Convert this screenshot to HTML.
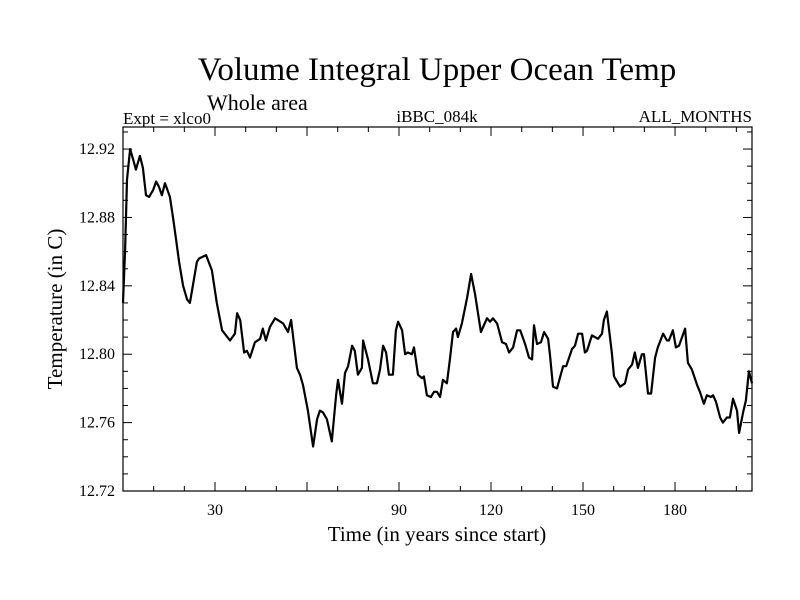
<!DOCTYPE html>
<html><head><meta charset="utf-8"><style>
body{margin:0;background:#fff}
svg{display:block;font-family:"Liberation Serif",serif}
</style></head><body>
<svg id="chart" width="800" height="600" xmlns="http://www.w3.org/2000/svg">
<rect width="800" height="600" fill="#fff"/>
<text x="437" y="80" font-size="33" text-anchor="middle">Volume Integral Upper Ocean Temp</text>
<text x="207" y="110" font-size="22">Whole area</text>
<text x="123" y="124" font-size="17">Expt = xlco0</text>
<text x="437" y="122" font-size="17" text-anchor="middle">iBBC_084k</text>
<text x="752" y="122" font-size="17" text-anchor="end">ALL_MONTHS</text>
<text transform="translate(62,309) rotate(-90)" font-size="21" text-anchor="middle">Temperature (in C)</text>
<text x="437" y="541" font-size="21" text-anchor="middle">Time (in years since start)</text>
<g id="axes"></g>
<path id="line" fill="none" stroke="#000" stroke-width="2.2" stroke-linejoin="round"/>
<rect x="123" y="127" width="629" height="364" fill="none" stroke="#000" stroke-width="1.2"/>
</svg>
<script>
const years=[0,0.7,1.3,2.3,3.3,4.2,5.5,6.5,7.5,8.5,9.8,10.8,11.7,12.7,13.7,14.7,15.3,16.3,17.3,18.3,19.6,20.9,21.8,24.1,24.8,27.1,29.0,30.6,32.3,34.9,36.5,37.2,38.2,39.5,40.4,41.4,43.0,44.7,45.6,46.6,47.9,49.6,52.2,53.5,53.8,54.8,56.7,57.7,58.7,60.3,62.0,63.3,64.2,65.2,66.5,68.1,69.5,70.1,71.4,72.4,73.4,74.7,75.6,76.6,77.9,78.3,79.9,81.5,82.8,83.8,84.8,85.8,86.7,88.0,89.0,89.7,91.0,92.0,92.9,94.2,94.9,96.2,97.5,98.1,99.1,100.4,101.4,102.4,103.4,104.3,105.6,106.6,107.6,108.6,109.2,110.5,112.2,113.5,114.8,116.7,118.7,119.7,120.6,122.0,123.6,124.9,125.9,127.2,128.5,129.5,131.1,132.4,133.4,134.0,135.0,136.3,137.3,138.6,139.2,140.2,141.5,143.5,144.5,146.4,147.4,148.4,149.7,150.6,151.3,152.9,153.9,154.9,156.2,156.8,157.8,159.4,160.1,162.1,163.7,164.7,166.0,166.9,167.9,169.2,169.9,171.2,172.2,173.5,174.4,176.1,177.4,178.0,179.3,180.3,181.3,183.3,184.2,185.5,187.2,188.1,189.4,190.4,191.7,192.4,193.4,194.7,195.6,196.9,197.9,198.9,200.2,200.9,202.2,203.1,204.1,205.1];
const temps=[12.830,12.861,12.902,12.920,12.914,12.908,12.916,12.909,12.893,12.892,12.896,12.901,12.898,12.893,12.900,12.895,12.892,12.880,12.867,12.854,12.840,12.832,12.830,12.854,12.856,12.858,12.849,12.830,12.814,12.808,12.812,12.824,12.820,12.801,12.802,12.798,12.807,12.809,12.815,12.808,12.816,12.821,12.818,12.814,12.813,12.820,12.792,12.788,12.782,12.767,12.746,12.762,12.767,12.766,12.762,12.749,12.776,12.785,12.771,12.789,12.793,12.805,12.802,12.788,12.792,12.808,12.797,12.783,12.783,12.791,12.805,12.801,12.788,12.788,12.814,12.819,12.814,12.800,12.801,12.800,12.804,12.788,12.786,12.787,12.776,12.775,12.778,12.778,12.775,12.785,12.783,12.797,12.813,12.815,12.810,12.818,12.833,12.847,12.835,12.813,12.821,12.819,12.821,12.818,12.807,12.806,12.801,12.804,12.814,12.814,12.806,12.798,12.797,12.817,12.806,12.807,12.813,12.809,12.800,12.781,12.780,12.793,12.793,12.803,12.805,12.812,12.812,12.801,12.802,12.811,12.810,12.809,12.812,12.820,12.825,12.801,12.787,12.781,12.783,12.791,12.794,12.801,12.792,12.800,12.800,12.777,12.777,12.798,12.804,12.812,12.808,12.808,12.814,12.804,12.805,12.815,12.795,12.791,12.782,12.778,12.771,12.776,12.775,12.776,12.772,12.763,12.760,12.763,12.763,12.774,12.767,12.754,12.766,12.773,12.790,12.783];
const yTickLabels=["12.72","12.76","12.80","12.84","12.88","12.92"];
const xTickLabels=["30","90","120","150","180"];
const X0=123,X1=752,Y0=491,Y1=127,xMin=0,xMax=205.1,yMin=12.72,yMax=12.9329;
function sx(v){return X0+(v-xMin)/(xMax-xMin)*(X1-X0);}
function sy(v){return Y0-(v-yMin)/(yMax-yMin)*(Y0-Y1);}
const NS="http://www.w3.org/2000/svg",ax=document.getElementById('axes');
function ln(x1,y1,x2,y2,name){const l=document.createElementNS(NS,'line');l.setAttribute('x1',x1);l.setAttribute('y1',y1);l.setAttribute('x2',x2);l.setAttribute('y2',y2);l.setAttribute('stroke','#000');l.setAttribute('stroke-width','1');


ax.appendChild(l);}
function tx(x,y,s,anchor,name){const t=document.createElementNS(NS,'text');t.setAttribute('x',x);t.setAttribute('y',y);t.setAttribute('font-size','16');t.setAttribute('text-anchor',anchor);t.textContent=s;


ax.appendChild(t);}
for(let v=12.72;v<=12.93;v+=0.01){const y=sy(v);const major=Math.round(v*100)%4===0;const L=major?9:5;ln(X0,y,X0+L,y,'y-tick');ln(X1-L,y,X1,y,'y-tick-right');}
yTickLabels.forEach(s=>tx(X0-8,sy(parseFloat(s))+5,s,'end','y-tick-label'));
for(let v=10;v<=200;v+=10){const x=sx(v);const major=v%30===0;const L=major?9:5;ln(x,Y0,x,Y0-L,'x-tick');ln(x,Y1,x,Y1+L,'x-tick-top');}
xTickLabels.forEach(s=>tx(sx(parseFloat(s)),Y0+24,s,'middle','x-tick-label'));
document.getElementById('line').setAttribute('d',years.map((y,i)=>(i?'L':'M')+sx(y).toFixed(1)+','+sy(temps[i]).toFixed(1)).join(''));
</script>
</body></html>
